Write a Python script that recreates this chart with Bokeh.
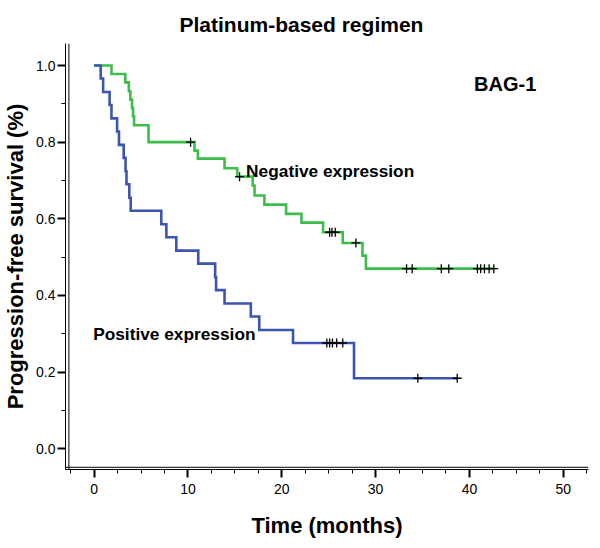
from bokeh.plotting import figure
from bokeh.models import FixedTicker, Label, Span, NumeralTickFormatter
from bokeh.embed import file_html
from bokeh.resources import INLINE

# ---------------- data ----------------
title_text = "Platinum-based regimen"
x_label = "Time (months)"
y_label = "Progression-free survival (%)"
marker_text = "BAG-1"

x_ticks = [0, 10, 20, 30, 40, 50]
x_minor_ticks = [-2.5, 2.5, 5, 7.5, 12.5, 15, 17.5, 22.5, 25, 27.5,
                 32.5, 35, 37.5, 42.5, 45, 47.5, 52.5]
y_ticks = [0.0, 0.2, 0.4, 0.6, 0.8, 1.0]
y_minor_ticks = [0.1, 0.3, 0.5, 0.7, 0.9]

neg_name = "Negative expression"
neg_time = [0, 1.85, 3.33, 3.7, 3.86, 4.04, 4.15, 4.26, 5.8, 10.7, 11.06, 13.9,
            15.25, 16.9, 17.1, 18.15, 20.46, 22.1, 24.4, 26.5, 28.6, 28.97, 42.6]
neg_surv = [1.0, 0.978, 0.956, 0.933, 0.911, 0.889, 0.867, 0.844, 0.800, 0.778,
            0.757, 0.732, 0.710, 0.687, 0.661, 0.637, 0.613, 0.590, 0.565, 0.537,
            0.504, 0.470, 0.470]
neg_cens_time = [10.28, 15.5, 25.1, 25.35, 25.7, 27.9, 33.3, 33.9, 37.0, 37.8,
                 40.85, 41.2, 41.6, 42.1, 42.6]
neg_cens_surv = [0.800, 0.710, 0.565, 0.565, 0.565, 0.537, 0.470, 0.470, 0.470,
                 0.470, 0.470, 0.470, 0.470, 0.470, 0.470]

pos_name = "Positive expression"
pos_time = [0, 0.70, 0.96, 1.65, 1.85, 2.45, 2.65, 3.15, 3.35, 3.45, 3.75, 3.9,
            7.16, 7.7, 8.76, 11.1, 12.9, 13.0, 13.9, 16.7, 17.6, 21.2, 27.7, 38.7]
pos_surv = [1.0, 0.966, 0.931, 0.897, 0.862, 0.828, 0.793, 0.759, 0.724, 0.690,
            0.655, 0.621, 0.586, 0.552, 0.517, 0.483, 0.448, 0.414, 0.379, 0.345,
            0.310, 0.276, 0.184, 0.184]
pos_cens_time = [24.8, 25.1, 25.4, 25.85, 26.5, 34.5, 38.7]
pos_cens_surv = [0.276, 0.276, 0.276, 0.276, 0.276, 0.184, 0.184]

# label anchor positions (data units)
neg_label_pos = (16.2, 0.726)
pos_label_pos = (-0.1, 0.300)
marker_pos = (40.5, 0.951)

# ---------------- style ----------------
FONT = "Liberation Sans"
GREEN = "#3cbe4b"
BLUE = "#3c55b0"

x_start, x_end = -3.05, 52.69
y_start, y_end = -0.054, 1.0574

p = figure(width=600, height=548, x_range=(x_start, x_end), y_range=(y_start, y_end),
           output_backend="svg", toolbar_location=None, title=title_text,
           min_border_left=64, min_border_right=12, min_border_top=43, min_border_bottom=79)
p.outline_line_color = None
p.xgrid.visible = False
p.ygrid.visible = False
p.background_fill_color = "white"
p.border_fill_color = "white"

p.title.text_font = FONT
p.title.text_font_size = "21px"
p.title.text_font_style = "bold"
p.title.text_color = "black"
p.title.align = "left"
p.title.offset = 114
p.title.standoff = 16

for ax in (p.xaxis[0], p.yaxis[0]):
    ax.axis_line_color = "black"
    ax.axis_line_width = 1
    ax.major_tick_in = 0
    ax.major_tick_out = 8
    ax.minor_tick_in = 0
    ax.minor_tick_out = 4
    ax.major_tick_line_width = 2
    ax.minor_tick_line_width = 1
    ax.major_tick_line_color = "black"
    ax.minor_tick_line_color = "black"
    ax.major_label_text_font = FONT
    ax.major_label_text_font_size = "14px"
    ax.major_label_text_color = "black"
    ax.axis_label_text_font = FONT
    ax.axis_label_text_font_size = "22px"
    ax.axis_label_text_font_style = "bold"
    ax.axis_label_text_color = "black"

p.xaxis.ticker = FixedTicker(ticks=x_ticks, minor_ticks=x_minor_ticks)
p.yaxis.ticker = FixedTicker(ticks=y_ticks, minor_ticks=y_minor_ticks)
p.yaxis.formatter = NumeralTickFormatter(format="0.0")
p.xaxis.axis_label = x_label
p.yaxis.axis_label = y_label
p.xaxis.major_label_standoff = 6
p.xaxis.axis_label_standoff = 16
p.yaxis.major_label_standoff = 2
p.yaxis.axis_label_standoff = 5

# inner line of the double axis lines
x_px_per_unit = (588 - 64) / (x_end - x_start)
y_px_per_unit = (469 - 43) / (y_end - y_start)
p.add_layout(Span(location=x_start + 3.4 / x_px_per_unit, dimension="height",
                  line_color="black", line_width=1))
p.add_layout(Span(location=y_start + 2.2 / y_px_per_unit, dimension="width",
                  line_color="black", line_width=1))

# curves
p.step(neg_time, neg_surv, mode="after", line_color=GREEN, line_width=2.6, line_join="miter")
p.step(pos_time, pos_surv, mode="after", line_color=BLUE, line_width=2.6, line_join="miter")
p.scatter(neg_cens_time, neg_cens_surv, marker="cross", size=9, line_color="black", line_width=1.3)
p.scatter(pos_cens_time, pos_cens_surv, marker="cross", size=9, line_color="black", line_width=1.3)

def add_text(txt, pos, size, align="left"):
    p.add_layout(Label(x=pos[0], y=pos[1], text=txt, text_font=FONT,
                       text_font_size=size, text_font_style="bold", text_color="black",
                       text_align=align, text_baseline="alphabetic"))

add_text(neg_name, neg_label_pos, "17.3px")
add_text(pos_name, pos_label_pos, "17.3px")
add_text(marker_text, marker_pos, "20px")

open("out.html", "w").write(file_html(p, INLINE))
